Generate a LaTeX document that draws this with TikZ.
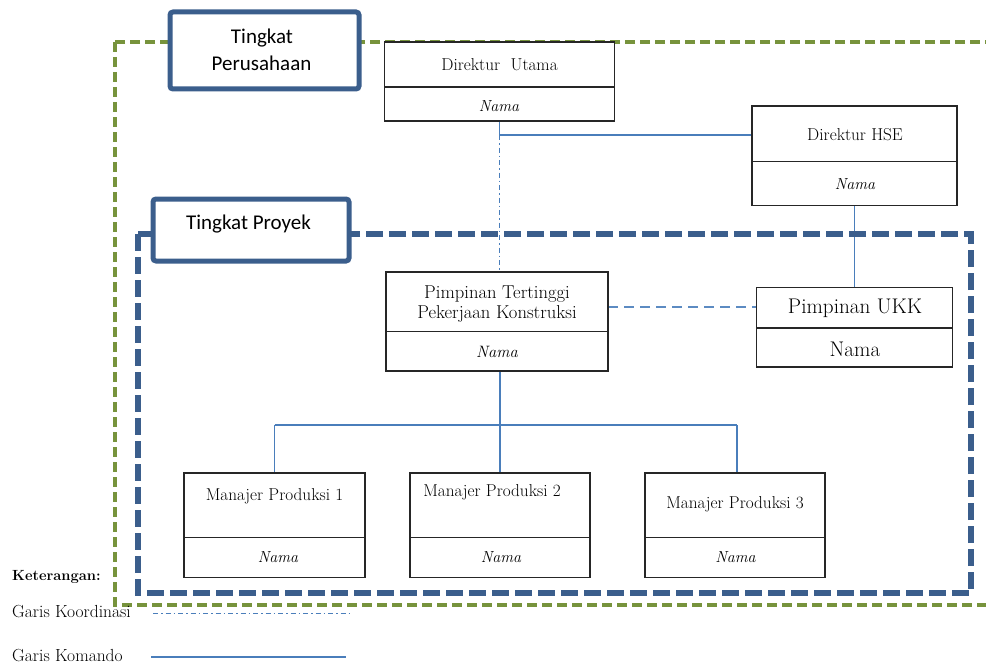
\documentclass[tikz,border=0pt]{standalone}
\usepackage{fontspec}
\newfontfamily\lvlfont{Carlito}
\usetikzlibrary{calc}
\definecolor{boxline}{HTML}{262626}
\definecolor{frameblue}{HTML}{3B5E8C}
\definecolor{framegreen}{HTML}{77933C}
\definecolor{linkblue}{HTML}{4A7EBB}
\pgfdeclarelayer{links}
\pgfdeclarelayer{frames}
\pgfsetlayers{links,frames,main}
\tikzset{
  orgbox/.style={draw=boxline, line width=1.2pt, fill=white, inner sep=0pt,
                 outer sep=0pt, anchor=north west},
  txt/.style={anchor=base, inner sep=0pt, font=\fontsize{17.2}{20}\selectfont},
  nama/.style={txt, font=\fontsize{16}{19}\selectfont\itshape},
  lvlbox/.style={draw=frameblue, line width=5pt, rounded corners=3pt, fill=white,
                 inner sep=0pt, anchor=north west},
  lvltxt/.style={anchor=base, inner sep=0pt, font=\lvlfont\fontsize{21}{25}\selectfont},
  cmd/.style={draw=linkblue, line width=1.1pt},
  koord/.style={draw=linkblue, line width=1.2pt,
                dash pattern=on 5pt off 3pt on 1.5pt off 3pt},
  liaison/.style={draw=linkblue!90!white, line width=2pt, dash pattern=on 10pt off 6pt},
  greenframe/.style={draw=framegreen, line width=3.6pt, dash pattern=on 10pt off 5pt},
  blueframe/.style={draw=frameblue, line width=5.5pt, dash pattern=on 17pt off 6pt},
  legtxt/.style={anchor=base west, inner sep=0pt, font=\fontsize{17.5}{20}\selectfont},
}
\begin{document}
\begin{tikzpicture}[x=1pt, y=-1pt]
\useasboundingbox (0,0) rectangle (986,669);

% ---- organisation boxes ----
\node[orgbox, minimum width=230pt, minimum height=79pt] (du) at (384.5,42) {};
\draw[boxline, line width=1.2pt] (384.5,87) -- (614.5,87);
\node[txt] at (499.5,71) {Direktur\ \ Utama};
\node[nama] at (499,111) {Nama};

\node[orgbox, minimum width=205pt, minimum height=99.5pt] (hse) at (752,106) {};
\draw[boxline, line width=1.2pt] (752,161.5) -- (957,161.5);
\node[txt] at (855,140.5) {Direktur HSE};
\node[nama] at (855,189) {Nama};

\node[orgbox, minimum width=222pt, minimum height=99pt] (ptp) at (386,272) {};
\draw[boxline, line width=1.2pt] (386,331.5) -- (608,331.5);
\node[txt, font=\fontsize{18.6}{21}\selectfont] at (497,298) {Pimpinan Tertinggi};
\node[txt, font=\fontsize{18.6}{21}\selectfont] at (497,318.5) {Pekerjaan Konstruksi};
\node[nama, font=\fontsize{16.5}{19}\selectfont\itshape] at (497,357) {Nama};

\node[orgbox, minimum width=196pt, minimum height=79.5pt] (ukk) at (756.5,287.5) {};
\draw[boxline, line width=1.2pt] (756.5,328) -- (952.5,328);
\node[txt, font=\fontsize{21.2}{24}\selectfont] at (855,313) {Pimpinan UKK};
\node[txt, font=\fontsize{21.2}{24}\selectfont] at (855,356) {Nama};

\node[orgbox, minimum width=181pt, minimum height=104.5pt] (m1) at (184,473) {};
\draw[boxline, line width=1.2pt] (184,537.5) -- (365,537.5);
\node[txt] at (274.5,500) {Manajer Produksi 1};
\node[nama] at (278,562) {Nama};

\node[orgbox, minimum width=180pt, minimum height=104.5pt] (m2) at (410,473) {};
\draw[boxline, line width=1.2pt] (410,537.5) -- (590,537.5);
\node[txt] at (492,496) {Manajer Produksi 2};
\node[nama] at (501,562) {Nama};

\node[orgbox, minimum width=180pt, minimum height=104.5pt] (m3) at (645,473) {};
\draw[boxline, line width=1.2pt] (645,537.5) -- (825,537.5);
\node[txt] at (735,508.5) {Manajer Produksi 3};
\node[nama] at (735.5,562) {Nama};

% ---- connectors ----
\coordinate (j1) at (499.5,135);
\coordinate (j2) at (500,425);
\begin{pgfonlayer}{links}
  \draw[cmd] (du.south -| j1) -- (j1) -- (j1 -| hse.west);
  \draw[koord] (j1) -- (j1 |- ptp.north);
  \draw[cmd] (hse.south -| 854.5,0) -- (ukk.north -| 854.5,0);
  \draw[liaison] (ptp.east |- 0,306.5) -- (ukk.west |- 0,306.5);
  \draw[cmd] (ptp.south -| j2) -- (j2);
  \draw[cmd] (j2 -| m1.north) -- (j2 -| 737,0);
  \draw[cmd] (j2 -| m1.north) -- (m1.north);
  \draw[cmd] (j2) -- (j2 |- m2.north);
  \draw[cmd] (j2 -| 737,0) -- (m3.north -| 737,0);
\end{pgfonlayer}

% ---- level frames ----
\begin{pgfonlayer}{frames}
  \begin{scope}
    \clip (0,0) rectangle (986,669);
    \draw[greenframe] (115,42) rectangle (1012,605);
  \end{scope}
  \draw[blueframe] (138,234) rectangle (971,593);
\end{pgfonlayer}

\node[lvlbox, minimum width=189pt, minimum height=77pt] (lvlp) at (167.5,9.5) {};
\node[lvltxt] at (262,44) {Tingkat};
\node[lvltxt] at (261.5,70.5) {Perusahaan};

\node[lvlbox, minimum width=196pt, minimum height=62pt] (lvlj) at (150.5,196.5) {};
\node[lvltxt] at (248.5,229.5) {Tingkat Proyek};

% ---- legend ----
\node[legtxt, font=\bfseries\fontsize{14.7}{17}\selectfont] (ket) at (12,580.5) {Keterangan:};
\node[legtxt] (lk) at (12,617) {Garis Koordinasi};
\node[legtxt] (lc) at (12,661) {Garis Komando};
\coordinate (k1) at (153,613.5);
\coordinate (k2) at (349,613.5);
\coordinate (c1) at (151,657);
\coordinate (c2) at (346,657);
\draw[koord] (k1) -- (k2);
\draw[cmd] (c1) -- (c2);
\end{tikzpicture}
\end{document}
